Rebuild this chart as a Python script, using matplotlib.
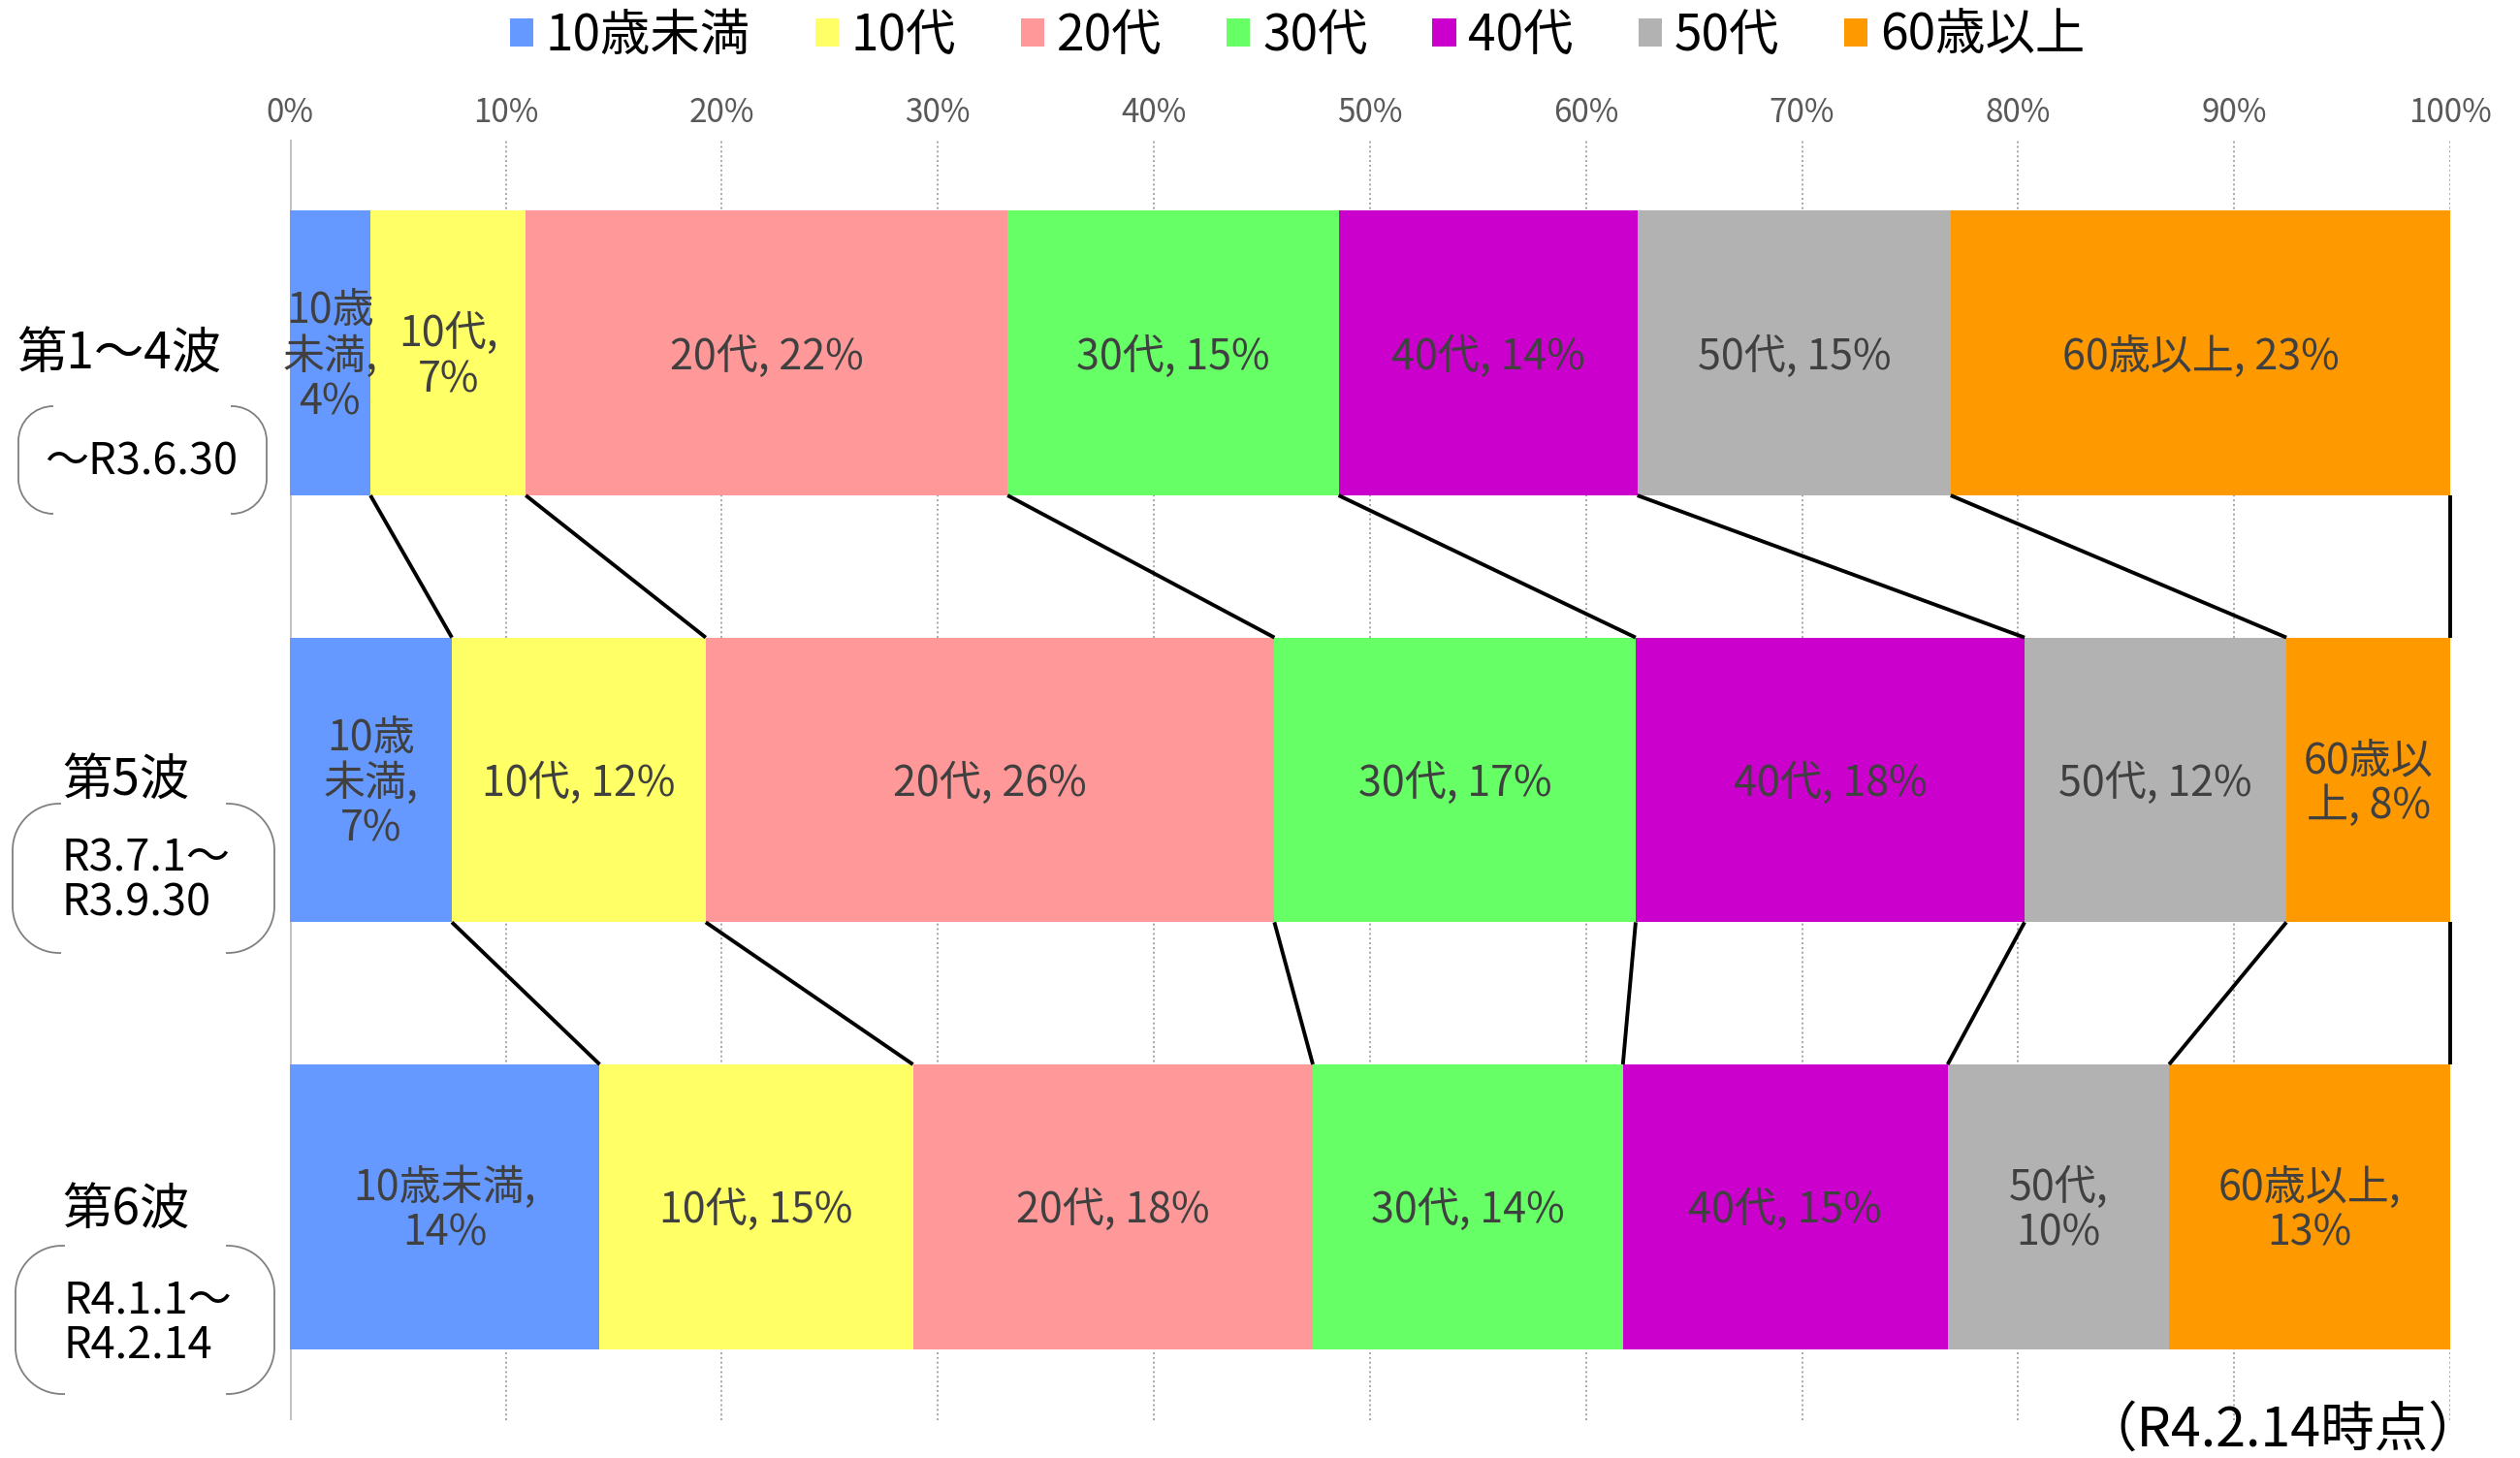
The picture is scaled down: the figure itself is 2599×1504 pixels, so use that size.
import matplotlib
matplotlib.use('Agg')
import matplotlib.pyplot as plt
from matplotlib.patches import Patch, PathPatch
from matplotlib.path import Path
import numpy as np

plt.rcParams['font.family'] = ['Noto Sans CJK JP', 'DejaVu Sans']

W, H = 2599, 1504

# ---------------- data ----------------
categories = ['10歳未満', '10代', '20代', '30代', '40代', '50代', '60歳以上']
colors = ['#6699FF', '#FFFF66', '#FF9999', '#66FF66', '#CC00CC', '#B2B2B2', '#FF9900']
waves = ['第1～4波', '第5波', '第6波']
periods = ['～R3.6.30', 'R3.7.1～\nR3.9.30', 'R4.1.1～\nR4.2.14']

share_wave1_4 = [3.74, 7.19, 22.30, 15.32, 13.83, 14.50, 23.12]
share_wave5 = [7.51, 11.75, 26.32, 16.72, 18.00, 12.12, 7.58]
share_wave6 = [14.35, 14.50, 18.51, 14.35, 15.03, 10.25, 13.01]

labels_wave1_4 = ['10歳\n未満,\n4%', '10代,\n7%', '20代, 22%', '30代, 15%',
                  '40代, 14%', '50代, 15%', '60歳以上, 23%']
labels_wave5 = ['10歳\n未満,\n7%', '10代, 12%', '20代, 26%', '30代, 17%',
                '40代, 18%', '50代, 12%', '60歳以\n上, 8%']
labels_wave6 = ['10歳未満,\n14%', '10代, 15%', '20代, 18%', '30代, 14%',
                '40代, 15%', '50代,\n10%', '60歳以上,\n13%']

xticks = [0, 10, 20, 30, 40, 50, 60, 70, 80, 90, 100]
xtick_labels = ['0%', '10%', '20%', '30%', '40%', '50%', '60%', '70%', '80%', '90%', '100%']
note = '（R4.2.14時点）'

shares = [share_wave1_4, share_wave5, share_wave6]
labels = [labels_wave1_4, labels_wave5, labels_wave6]

# ---------------- layout helpers ----------------
def fx(x):
    return x / W

def fy(y):
    return 1 - y / H

fig = plt.figure(figsize=(W / 100, H / 100), dpi=100)
ax = fig.add_axes([fx(298.7), fy(1465), 2228.3 / W, (1465 - 144) / H])

bar_h = 0.667
cums = []
for i, vals in enumerate(shares):
    vals = np.array(vals, dtype=float)
    cum = np.cumsum(vals)
    lefts = cum - vals
    cums.append(cum)
    ax.barh([i] * len(vals), vals, left=lefts, height=bar_h, color=colors, zorder=2)
    for v, l, lab in zip(vals, lefts, labels[i]):
        ax.text(l + v / 2, i + 0.01, lab, ha='center', va='center', fontsize=31,
                color='#404040', linespacing=1.08, zorder=4)

# connector lines between consecutive bars
for i in range(len(shares) - 1):
    for k in range(len(categories)):
        ax.plot([cums[i][k], cums[i + 1][k]], [i + bar_h / 2, i + 1 - bar_h / 2],
                color='black', lw=2.8, zorder=3, solid_capstyle='butt', clip_on=False)

ax.set_xlim(0, 100)
ax.set_ylim(2.5, -0.5)
ax.set_xticks(xticks)
ax.set_xticklabels(xtick_labels)
ax.set_yticks([])
ax.xaxis.tick_top()
ax.tick_params(axis='x', length=0, pad=7, labelsize=24, labelcolor='#595959')
for s in ax.spines.values():
    s.set_visible(False)
ax.grid(axis='x', linestyle=(0, (1, 1.5)), color='#A6A6A6', lw=1.4, zorder=0)
ax.get_xgridlines()[0].set_visible(False)
ax.axvline(0, color='#BFBFBF', lw=2, zorder=1)

# legend
handles = [Patch(facecolor=c, edgecolor='none', label=l) for c, l in zip(colors, categories)]
fig.legend(handles=handles, loc='center', bbox_to_anchor=(fx(1338), fy(37)), ncol=7,
           frameon=False, fontsize=37, handlelength=0.47, handleheight=0.47,
           handletextpad=0.25, columnspacing=1.3, borderaxespad=0, borderpad=0)

# row titles and period brackets
title_pos = [(123, 365), (130, 805), (130, 1248)]
period_pos = [(146, 477, 'center'), (63, 908.5, 'left'), (66, 1365, 'left')]
brackets = [(19, 275, 419, 530, 55, 238, 36),
            (13, 283, 829, 983, 63, 233, 48),
            (16, 283, 1285, 1438, 67, 233, 48)]

for t, (tx, ty) in zip(waves, title_pos):
    fig.text(fx(tx), fy(ty), t, ha='center', va='center', fontsize=37, color='black')
for p, (px, py, ha) in zip(periods, period_pos):
    fig.text(fx(px), fy(py), p, ha=ha, va='center', fontsize=32.5, color='black',
             linespacing=1.02)

kap = 0.5523
for xl, xr, yt, yb, gl, gr, r in brackets:
    verts = [
        (gl, yt), (xl + r, yt),
        (xl + r - kap * r, yt), (xl, yt + r - kap * r), (xl, yt + r),
        (xl, yb - r),
        (xl, yb - r + kap * r), (xl + r - kap * r, yb), (xl + r, yb),
        (gl, yb),
        (gr, yt), (xr - r, yt),
        (xr - r + kap * r, yt), (xr, yt + r - kap * r), (xr, yt + r),
        (xr, yb - r),
        (xr, yb - r + kap * r), (xr - r + kap * r, yb), (xr - r, yb),
        (gr, yb),
    ]
    codes = [Path.MOVETO, Path.LINETO,
             Path.CURVE4, Path.CURVE4, Path.CURVE4,
             Path.LINETO,
             Path.CURVE4, Path.CURVE4, Path.CURVE4,
             Path.LINETO] * 2
    verts = [(fx(x), fy(y)) for x, y in verts]
    patch = PathPatch(Path(verts, codes), transform=fig.transFigure, fill=False,
                      edgecolor='#808080', lw=1.3)
    fig.add_artist(patch)

fig.text(fx(2560), fy(1476), note, ha='right', va='center', fontsize=40, color='black')

fig.savefig('out.png', dpi=100)
